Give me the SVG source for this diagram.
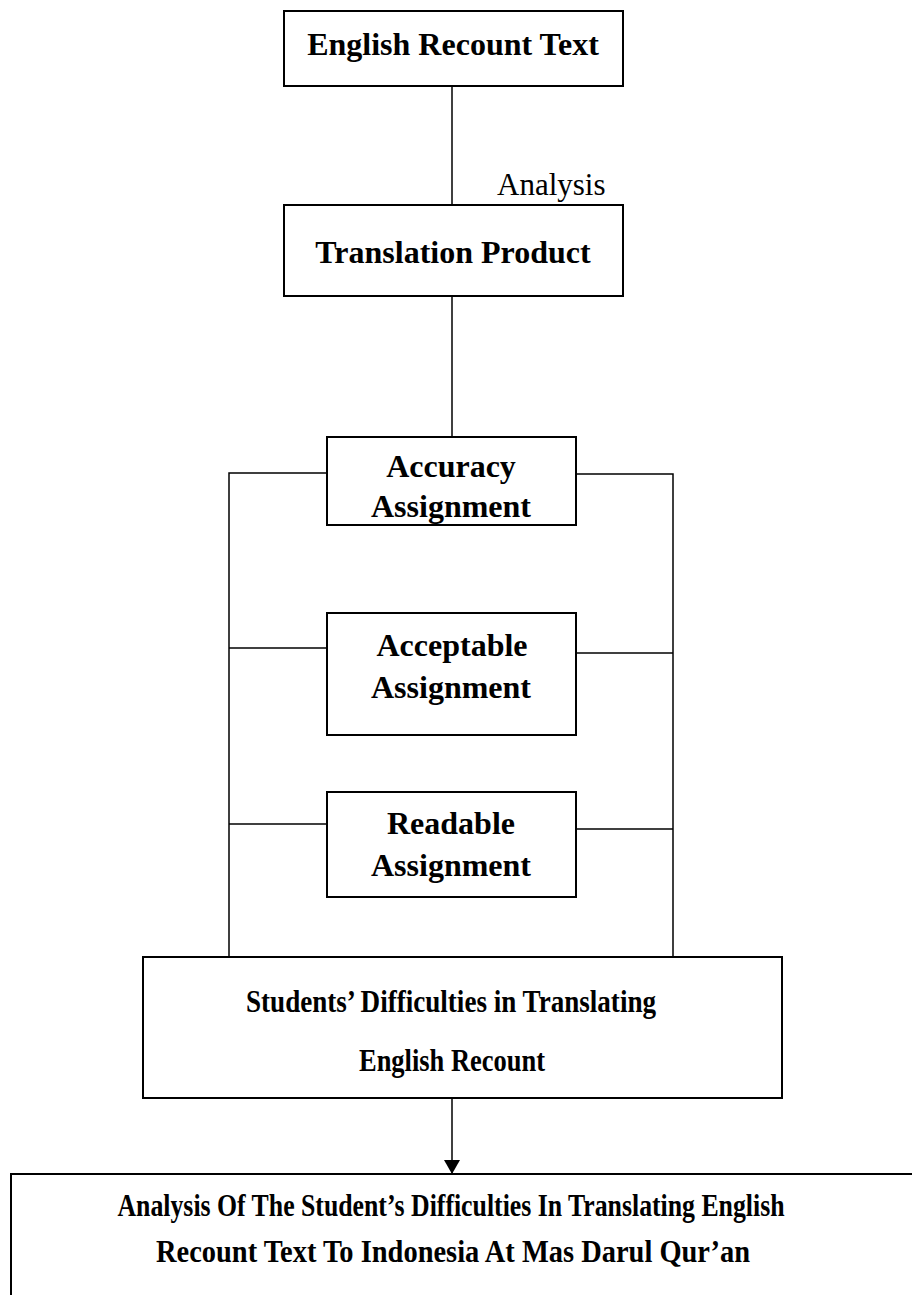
<svg xmlns="http://www.w3.org/2000/svg" width="912" height="1295" viewBox="0 0 912 1295">
<defs>
<style>
.box{fill:#fff;stroke:#000;stroke-width:2}
.ln{stroke:#000;stroke-width:1.5;fill:none}
.t{font-family:"Liberation Serif","Times New Roman",serif;font-weight:bold;font-size:32px;text-anchor:middle;fill:#000}
.r{font-family:"Liberation Serif","Times New Roman",serif;font-size:31px;fill:#000}
</style>
<marker id="arrow" viewBox="0 0 14 16" refX="14" refY="8" markerWidth="14" markerHeight="16" markerUnits="userSpaceOnUse" orient="auto">
<path d="M0,0 L14,8 L0,16 z" fill="#000"/>
</marker>
</defs>
<g id="connectors">
<line class="ln" x1="452" y1="86" x2="452" y2="205"/>
<line class="ln" x1="452" y1="296" x2="452" y2="437"/>
<polyline class="ln" points="327,473 229,473 229,957"/>
<polyline class="ln" points="576,474 673,474 673,957"/>
<line class="ln" x1="229" y1="648" x2="327" y2="648"/>
<line class="ln" x1="576" y1="653" x2="673" y2="653"/>
<line class="ln" x1="229" y1="824" x2="327" y2="824"/>
<line class="ln" x1="576" y1="829" x2="673" y2="829"/>
<line class="ln" x1="452" y1="1098" x2="452" y2="1174" marker-end="url(#arrow)"/>
<text class="r" x="497" y="195">Analysis</text>
</g>
<g id="n1">
<rect class="box" x="284" y="11" width="339" height="75"/>
<text class="t" x="453" y="55">English Recount Text</text>
</g>
<g id="n2">
<rect class="box" x="284" y="205" width="339" height="91"/>
<text class="t" x="453" y="263">Translation Product</text>
</g>
<g id="n3">
<rect class="box" x="327" y="437" width="249" height="88"/>
<text class="t" x="451" y="477">Accuracy</text>
<text class="t" x="451" y="517">Assignment</text>
</g>
<g id="n4">
<rect class="box" x="327" y="613" width="249" height="122"/>
<text class="t" x="452" y="656">Acceptable</text>
<text class="t" x="451" y="698">Assignment</text>
</g>
<g id="n5">
<rect class="box" x="327" y="792" width="249" height="105"/>
<text class="t" x="451" y="834">Readable</text>
<text class="t" x="451" y="876">Assignment</text>
</g>
<g id="n6">
<rect class="box" x="143" y="957" width="639" height="141"/>
<text class="t" x="451" y="1012" textLength="410" lengthAdjust="spacingAndGlyphs">Students’ Difficulties in Translating</text>
<text class="t" x="452" y="1071" textLength="186" lengthAdjust="spacingAndGlyphs">English Recount</text>
</g>
<g id="n7">
<rect class="box" x="11" y="1174" width="904" height="140"/>
<text class="t" x="451" y="1216" textLength="667" lengthAdjust="spacingAndGlyphs">Analysis Of The Student’s Difficulties In Translating English</text>
<text class="t" x="453" y="1262" textLength="594" lengthAdjust="spacingAndGlyphs">Recount Text To Indonesia At Mas Darul Qur’an</text>
</g>
</svg>
